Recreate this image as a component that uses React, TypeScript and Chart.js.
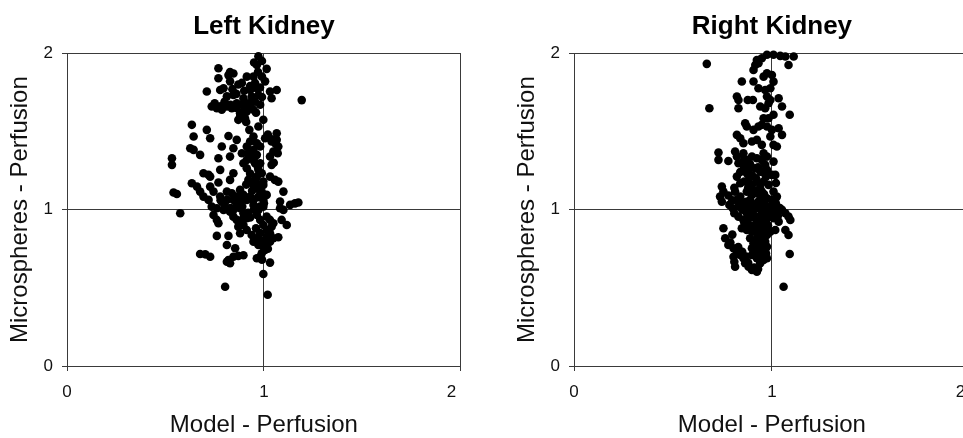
import React, { useEffect, useRef } from "react";
import { Chart, registerables } from "chart.js";

Chart.register(...registerables);

const panelTitles = ["Left Kidney", "Right Kidney"];
const xAxisTitle = "Model - Perfusion";
const yAxisTitle = "Microspheres - Perfusion";
const tickValues = [0, 1, 2];
const tickLabels = ["0", "1", "2"];

// [Model - Perfusion, Microspheres - Perfusion]
const leftKidney: [number, number][] = [
  [0.972, 1.98], [0.964, 1.925], [1.014, 1.9], [0.769, 1.904], [0.828, 1.88], [0.845, 1.87],
  [0.769, 1.84], [0.913, 1.85], [0.947, 1.85], [1.006, 1.82], [0.955, 1.81], [0.87, 1.8],
  [0.888, 1.81], [0.828, 1.82], [1.065, 1.765], [1.031, 1.755], [0.71, 1.755], [0.778, 1.765],
  [0.795, 1.776], [0.93, 1.765], [0.964, 1.776], [1.039, 1.712], [1.192, 1.7], [0.812, 1.724],
  [0.845, 1.733], [0.896, 1.712], [0.938, 1.723], [0.972, 1.733], [0.735, 1.659], [0.761, 1.648],
  [0.786, 1.638], [0.812, 1.659], [0.837, 1.648], [0.862, 1.68], [0.888, 1.67], [0.921, 1.68],
  [0.955, 1.69], [0.981, 1.67], [0.879, 1.616], [0.913, 1.627], [0.947, 1.638], [0.87, 1.574],
  [0.904, 1.584], [0.997, 1.574], [0.634, 1.542], [0.972, 1.531], [0.71, 1.51], [0.926, 1.51],
  [0.643, 1.467], [0.727, 1.456], [0.82, 1.471], [0.862, 1.446], [0.947, 1.467], [0.93, 1.435],
  [0.964, 1.424], [1.006, 1.456], [1.039, 1.435], [1.065, 1.488], [1.065, 1.446], [1.073, 1.403],
  [1.048, 1.371], [1.031, 1.339], [0.626, 1.392], [0.643, 1.382], [0.676, 1.35], [0.786, 1.403],
  [0.845, 1.392], [0.828, 1.339], [0.888, 1.36], [0.913, 1.318], [0.964, 1.35], [0.955, 1.296],
  [0.533, 1.328], [0.533, 1.286], [0.769, 1.328], [0.896, 1.296], [0.913, 1.264], [0.981, 1.296],
  [0.972, 1.254], [1.039, 1.286], [0.778, 1.254], [0.845, 1.232], [0.828, 1.19], [0.693, 1.232],
  [0.719, 1.222], [0.727, 1.211], [0.964, 1.211], [0.947, 1.179], [1.031, 1.211], [1.056, 1.19],
  [1.073, 1.179], [0.634, 1.168], [0.66, 1.147], [0.676, 1.115], [0.769, 1.173], [0.727, 1.147],
  [0.744, 1.115], [0.541, 1.109], [0.558, 1.1], [0.812, 1.115], [0.837, 1.104], [0.879, 1.126],
  [0.896, 1.094], [0.964, 1.147], [0.981, 1.115], [0.997, 1.158], [1.099, 1.115], [0.693, 1.083],
  [0.719, 1.062], [0.778, 1.083], [0.786, 1.051], [0.812, 1.062], [0.845, 1.062], [0.862, 1.083],
  [0.879, 1.051], [0.913, 1.062], [0.93, 1.083], [0.947, 1.062], [0.997, 1.062], [1.014, 1.094],
  [1.082, 1.051], [1.082, 1.009], [1.099, 0.998], [1.133, 1.03], [1.158, 1.04], [1.175, 1.045],
  [0.735, 1.019], [0.761, 1.009], [0.575, 0.977], [0.795, 0.998], [0.828, 0.987], [0.845, 0.998],
  [0.879, 1.009], [0.896, 0.977], [0.947, 1.03], [0.972, 0.998], [0.997, 1.019], [0.744, 0.966],
  [0.761, 0.934], [0.845, 0.955], [0.862, 0.934], [0.888, 0.934], [0.913, 0.945], [0.964, 0.966],
  [0.981, 0.934], [1.014, 0.955], [1.031, 0.934], [1.048, 0.913], [1.09, 0.934], [1.116, 0.902],
  [0.769, 0.913], [0.87, 0.891], [0.896, 0.902], [0.913, 0.87], [0.997, 0.902], [1.014, 0.87],
  [1.039, 0.891], [0.879, 0.849], [0.938, 0.838], [0.964, 0.817], [0.981, 0.806], [0.761, 0.832],
  [0.82, 0.832], [1.014, 0.827], [1.031, 0.849], [1.048, 0.817], [1.073, 0.823], [0.947, 0.795],
  [0.972, 0.774], [0.997, 0.763], [1.014, 0.785], [1.031, 0.795], [0.812, 0.774], [0.854, 0.753],
  [0.989, 0.721], [1.006, 0.742], [0.676, 0.716], [0.702, 0.714], [0.727, 0.699], [0.845, 0.699],
  [0.87, 0.704], [0.896, 0.708], [0.82, 0.678], [0.828, 0.657], [0.812, 0.667], [0.964, 0.689],
  [0.981, 0.699], [1.031, 0.661], [0.997, 0.588], [0.803, 0.507], [1.019, 0.456], [0.947, 1.158],
  [0.921, 1.19], [0.947, 1.339], [0.981, 1.403], [0.989, 1.232], [0.997, 1.179], [0.913, 1.403],
  [0.947, 1.382],
  [0.75, 1.68], [0.78, 1.66], [0.8, 1.69], [0.83, 1.67], [0.86, 1.65], [0.9, 1.64], [0.93, 1.66],
  [0.96, 1.62], [0.99, 1.72], [0.98, 1.78], [0.99, 1.85], [0.97, 1.88], [0.93, 1.79], [0.9, 1.76],
  [0.86, 1.74], [0.84, 1.77], [0.82, 1.86], [0.88, 1.6], [0.91, 1.56], [0.95, 1.94], [0.99, 1.95],
  [0.92, 1.36], [0.95, 1.31], [0.97, 1.27], [0.93, 1.23], [0.96, 1.2], [0.98, 1.16], [0.94, 1.12],
  [0.97, 1.08], [0.99, 1.11], [0.91, 1.16], [1.0, 1.04], [0.98, 1.02], [0.95, 1.0], [0.92, 0.98],
  [0.89, 1.02], [0.86, 1.04], [0.83, 1.01], [0.8, 1.03], [0.78, 1.06], [1.05, 1.3], [1.07, 1.36],
  [1.06, 1.42], [1.02, 1.48], [1.04, 1.45], [0.98, 0.85], [1.0, 0.8], [0.96, 0.88], [1.02, 0.75],
  [0.99, 0.68], [0.93, 0.95], [0.9, 0.96],
];

const rightKidney: [number, number][] = [
  [0.671, 1.932], [0.684, 1.648], [1.059, 0.507], [1.09, 0.716], [0.975, 1.99], [1.008, 1.99],
  [1.042, 1.983], [1.068, 1.979], [1.11, 1.979], [0.924, 1.957], [0.949, 1.968], [0.916, 1.925],
  [0.932, 1.936], [0.907, 1.893], [1.084, 1.925], [0.975, 1.872], [1.0, 1.861], [0.958, 1.85],
  [1.008, 1.818], [0.848, 1.819], [0.907, 1.819], [0.932, 1.776], [0.966, 1.765], [0.992, 1.776],
  [0.823, 1.723], [0.831, 1.701], [0.878, 1.701], [0.904, 1.701], [0.975, 1.723], [0.992, 1.701],
  [1.034, 1.712], [1.051, 1.659], [0.831, 1.648], [0.941, 1.659], [0.966, 1.648], [0.983, 1.68],
  [1.09, 1.606], [0.958, 1.584], [0.983, 1.584], [1.008, 1.606], [0.865, 1.552], [0.873, 1.531],
  [0.932, 1.531], [0.949, 1.542], [0.975, 1.531], [1.034, 1.52], [1.051, 1.478], [0.823, 1.478],
  [0.84, 1.456], [0.856, 1.424], [0.899, 1.435], [0.924, 1.446], [0.949, 1.414], [0.992, 1.467],
  [1.008, 1.414], [1.025, 1.403], [0.73, 1.365], [0.73, 1.318], [0.78, 1.311], [0.814, 1.371],
  [0.823, 1.339], [0.831, 1.296], [0.873, 1.318], [0.899, 1.339], [0.924, 1.328], [0.949, 1.318],
  [0.966, 1.286], [1.008, 1.307], [0.856, 1.254], [0.873, 1.232], [0.916, 1.264], [0.941, 1.243],
  [0.975, 1.254], [1.0, 1.222], [1.017, 1.222], [0.823, 1.211], [0.84, 1.168], [0.882, 1.19],
  [0.899, 1.158], [0.924, 1.179], [0.958, 1.179], [0.983, 1.158], [0.747, 1.147], [0.755, 1.115],
  [0.738, 1.083], [0.747, 1.051], [0.814, 1.115], [0.84, 1.083], [0.823, 1.062], [0.873, 1.115],
  [0.899, 1.094], [0.924, 1.104], [0.949, 1.115], [1.008, 1.115], [1.025, 1.083], [1.0, 1.062],
  [0.785, 1.03], [0.802, 1.009], [0.81, 0.977], [0.856, 1.041], [0.882, 1.019], [0.907, 1.03],
  [0.932, 1.009], [0.966, 1.03], [0.992, 1.019], [1.017, 0.998], [1.051, 0.998], [1.068, 0.977],
  [1.084, 0.955], [1.093, 0.934], [0.831, 0.955], [0.856, 0.934], [0.882, 0.945], [0.907, 0.966],
  [0.932, 0.934], [0.958, 0.945], [0.983, 0.955], [1.008, 0.945], [1.034, 0.923], [0.848, 0.881],
  [0.873, 0.87], [0.899, 0.891], [0.924, 0.87], [0.949, 0.881], [0.975, 0.891], [0.992, 0.859],
  [1.017, 0.87], [0.755, 0.881], [1.068, 0.87], [1.084, 0.838], [0.89, 0.817], [0.916, 0.806],
  [0.941, 0.817], [0.966, 0.795], [0.764, 0.817], [0.78, 0.774], [0.806, 0.753], [0.823, 0.721],
  [0.899, 0.753], [0.924, 0.753], [0.949, 0.742], [0.975, 0.763], [0.84, 0.71], [0.856, 0.689],
  [0.899, 0.71], [0.924, 0.689], [0.949, 0.699], [0.975, 0.689], [0.81, 0.667], [0.814, 0.635],
  [0.865, 0.657], [0.882, 0.635], [0.899, 0.614], [0.924, 0.603], [0.958, 0.678], [0.941, 0.657],
  [0.806, 0.699], [0.89, 1.062], [0.941, 1.062], [0.975, 1.072], [0.907, 0.998], [0.958, 0.987],
  [0.873, 0.977], [0.924, 0.849], [0.975, 0.838], [0.907, 0.785], [0.949, 0.785], [0.856, 1.36],
  [0.958, 1.36], [0.975, 1.339], [0.907, 1.51], [1.0, 1.51],
  [0.86, 1.28], [0.88, 1.25], [0.9, 1.22], [0.92, 1.2], [0.86, 1.18], [0.88, 1.14], [0.91, 1.12],
  [0.94, 1.14], [0.96, 1.1], [0.87, 1.05], [0.9, 1.03], [0.93, 1.05], [0.95, 1.02], [0.98, 1.0],
  [0.88, 0.98], [0.91, 0.95], [0.94, 0.96], [0.97, 0.93], [0.99, 0.97], [0.86, 0.92], [0.89, 0.9],
  [0.92, 0.91], [0.95, 0.9], [0.98, 0.9], [0.9, 0.86], [0.93, 0.84], [0.96, 0.86], [0.92, 0.8],
  [0.94, 0.78], [0.96, 0.75], [0.93, 0.73], [0.96, 0.71], [0.91, 0.72], [0.94, 0.67], [0.97, 0.72],
  [0.85, 1.0], [0.83, 1.02], [0.8, 1.06], [0.78, 1.09], [0.81, 1.14], [0.84, 1.24], [0.86, 1.32],
  [0.89, 1.29], [0.93, 1.27], [0.95, 1.24], [0.97, 1.21], [1.02, 1.17], [1.02, 1.04], [1.04, 1.01],
  [1.03, 0.96], [0.8, 0.84], [0.79, 0.79], [0.83, 0.76], [0.85, 0.73], [0.87, 0.7], [0.88, 0.66],
  [0.91, 0.63], [0.93, 0.62],
];

const panelData = [leftKidney, rightKidney];

const FONT = "'Liberation Sans', Arial, Helvetica, sans-serif";

function tickText(value: number, isX: boolean): string {
  const i = tickValues.indexOf(Number(value));
  const label = i >= 0 ? tickLabels[i] : "";
  // the last label of the x axis sits slightly left of its gridline in the reference
  if (isX && i === tickValues.length - 1) return label + "\u00a0\u00a0\u00a0\u00a0";
  return label;
}

function Panel({ title, points, left, width }: { title: string; points: [number, number][]; left: number; width: number }) {
  const ref = useRef<HTMLCanvasElement | null>(null);
  useEffect(() => {
    if (!ref.current) return;
    const lineColor = "#3a3a3a";
    const chart = new Chart(ref.current, {
      type: "scatter",
      data: {
        datasets: [
          {
            data: points.map(([x, y]) => ({ x, y })),
            backgroundColor: "#000",
            borderColor: "#000",
            borderWidth: 0,
            pointRadius: 4.3,
            pointHoverRadius: 4.3,
            clip: false as any,
          },
        ],
      },
      options: {
        responsive: false,
        animation: false,
        events: [],
        layout: { padding: { top: 0, right: 19, bottom: 0, left: 0 } },
        plugins: {
          legend: { display: false },
          tooltip: { enabled: false },
          title: {
            display: true,
            fullSize: false,
            text: title,
            color: "#000",
            font: { family: FONT, size: 26, weight: "bold" },
            padding: { top: 11, bottom: 11 },
          },
        },
        scales: {
          x: {
            type: "linear",
            min: 0,
            max: 2,
            afterFit: (s: any) => {
              s.height = 72;
            },
            afterBuildTicks: (s: any) => {
              s.ticks = tickValues.map((v) => ({ value: v }));
            },
            ticks: {
              padding: 11,
              color: "#111",
              font: { family: FONT, size: 17 },
              maxRotation: 0,
              autoSkip: false,
              callback: (v: any) => tickText(v, true),
            },
            grid: { color: lineColor, lineWidth: 1, tickLength: 5 },
            border: { color: lineColor, width: 1 },
            title: {
              display: true,
              text: xAxisTitle,
              color: "#111",
              font: { family: FONT, size: 24 },
              padding: { top: 0, bottom: -2 },
            },
          },
          y: {
            type: "linear",
            min: 0,
            max: 2,
            afterFit: (s: any) => {
              s.width = 67;
            },
            afterBuildTicks: (s: any) => {
              s.ticks = tickValues.map((v) => ({ value: v }));
            },
            ticks: {
              padding: 9,
              color: "#111",
              font: { family: FONT, size: 17 },
              autoSkip: false,
              callback: (v: any) => tickText(v, false),
            },
            grid: { color: lineColor, lineWidth: 1, tickLength: 5 },
            border: { color: lineColor, width: 1 },
            title: {
              display: true,
              text: yAxisTitle,
              color: "#111",
              font: { family: FONT, size: 24 },
              padding: { top: 6, bottom: 0 },
            },
          },
        },
      } as any,
    });
    return () => chart.destroy();
  }, [title, points]);
  return (
    <canvas
      ref={ref}
      width={width}
      height={438}
      style={{ position: "absolute", left, top: 0, width, height: 438 }}
    />
  );
}

export default function App() {
  return (
    <div
      style={{
        position: "fixed",
        left: 0,
        top: 0,
        width: 963,
        height: 438,
        overflow: "hidden",
        background: "#fff",
      }}
    >
      <Panel title={panelTitles[0]} points={panelData[0]} left={0} width={486} />
      <Panel title={panelTitles[1]} points={panelData[1]} left={507} width={488} />
    </div>
  );
}
